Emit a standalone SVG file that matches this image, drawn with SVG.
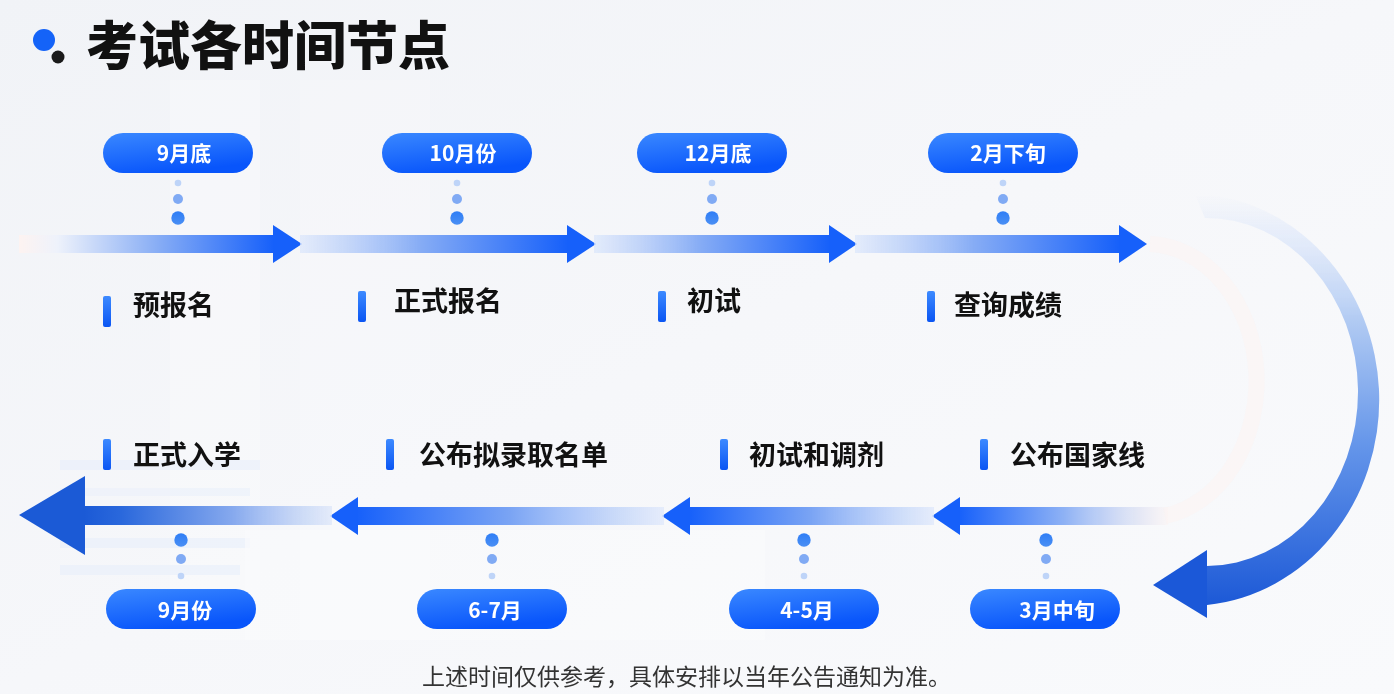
<svg xmlns="http://www.w3.org/2000/svg" width="1394" height="694" viewBox="0 0 1394 694">
<defs>
<linearGradient id="bg" x1="0" y1="0" x2="1" y2="1">
<stop offset="0" stop-color="#f1f3f7"/>
<stop offset="0.5" stop-color="#f6f7fa"/>
<stop offset="1" stop-color="#f9fafc"/>
</linearGradient>
<linearGradient id="pill" x1="0" y1="0" x2="0.4" y2="1">
<stop offset="0" stop-color="#3a88ff"/>
<stop offset="1" stop-color="#0855fb"/>
</linearGradient>
<linearGradient id="bar" x1="0" y1="0" x2="0" y2="1">
<stop offset="0" stop-color="#3d8aff"/>
<stop offset="1" stop-color="#0a55f3"/>
</linearGradient>
<linearGradient id="dotg" x1="0" y1="0" x2="0" y2="1">
<stop offset="0" stop-color="#2f7ef6"/>
<stop offset="1" stop-color="#4a8ff4"/>
</linearGradient>
<linearGradient id="rshaft" x1="0" y1="0" x2="1" y2="0">
<stop offset="0" stop-color="#dbe6fb" stop-opacity="0.7"/>
<stop offset="0.45" stop-color="#86acf5"/>
<stop offset="1" stop-color="#1660fa"/>
</linearGradient>
<linearGradient id="rshaft1" x1="0" y1="0" x2="1" y2="0">
<stop offset="0" stop-color="#fdf3f1"/>
<stop offset="0.15" stop-color="#eef2fb"/>
<stop offset="0.55" stop-color="#86acf5"/>
<stop offset="1" stop-color="#1660fa"/>
</linearGradient>
<linearGradient id="lshaft" x1="0" y1="0" x2="1" y2="0">
<stop offset="0" stop-color="#1660fa"/>
<stop offset="0.5" stop-color="#7aa4f4"/>
<stop offset="1" stop-color="#dde7fb" stop-opacity="0.7"/>
</linearGradient>
<linearGradient id="lshaft4" x1="0" y1="0" x2="1" y2="0">
<stop offset="0" stop-color="#1660fa"/>
<stop offset="0.5" stop-color="#8db1f5"/>
<stop offset="1" stop-color="#fbf3f2" stop-opacity="0.6"/>
</linearGradient>
<linearGradient id="lshaft1" x1="0" y1="0" x2="1" y2="0">
<stop offset="0" stop-color="#1b5ad6"/>
<stop offset="0.15" stop-color="#2a68dc"/>
<stop offset="0.6" stop-color="#86a9ee"/>
<stop offset="1" stop-color="#dbe5f9" stop-opacity="0.7"/>
</linearGradient>
<linearGradient id="curve" x1="0" y1="195" x2="0" y2="610" gradientUnits="userSpaceOnUse">
<stop offset="0" stop-color="#e4ecfb" stop-opacity="0"/>
<stop offset="0.08" stop-color="#dfe8fa" stop-opacity="0.6"/>
<stop offset="0.3" stop-color="#b2cbf3"/>
<stop offset="0.6" stop-color="#6596ea"/>
<stop offset="1" stop-color="#1a57d6"/>
</linearGradient>
</defs>
<style>
.pill{fill:url(#pill)}
.ptxt{font-family:"Noto Sans CJK SC","Noto Sans",sans-serif;font-weight:700;font-size:21px;fill:#ffffff;text-anchor:middle}
.lbl{font-family:"Noto Sans CJK SC","Noto Sans",sans-serif;font-weight:700;font-size:27px;fill:#111111}
.bar{fill:url(#bar)}
.d1{fill:#bed4f8}
.d2{fill:#80aaf4}
.d3{fill:url(#dotg)}
.head{fill:#1660fa}
</style>
<rect x="0" y="0" width="1394" height="694" fill="url(#bg)"/>
<g id="background-deco" opacity="0.5">
<rect x="170" y="80" width="90" height="560" fill="#ffffff" opacity="0.5"/>
<rect x="300" y="80" width="130" height="560" fill="#ffffff" opacity="0.35"/>
<rect x="60" y="460" width="200" height="10" fill="#dbe8fb" opacity="0.6"/>
<rect x="60" y="488" width="190" height="8" fill="#e0ebfb" opacity="0.6"/>
<rect x="60" y="538" width="190" height="10" fill="#dbe8fb" opacity="0.6"/>
<rect x="60" y="565" width="180" height="10" fill="#dbe8fb" opacity="0.6"/>
<rect x="245" y="530" width="520" height="110" fill="#ffffff" opacity="0.6"/>
</g>

<g id="title">
<circle cx="44" cy="40" r="11" fill="#1463f8"/>
<circle cx="58" cy="57" r="6.5" fill="#1a1a1a"/>
<text x="86" y="65" font-family="'Noto Sans CJK SC','Noto Sans',sans-serif" font-weight="900" font-size="52" fill="#111111">考试各时间节点</text>
</g>

<g id="connectors">
<rect x="19" y="235" width="255" height="18" fill="url(#rshaft1)"/>
<polygon class="head" points="273,225 302,244 273,263"/>
<rect x="300" y="235" width="268" height="18" fill="url(#rshaft)"/>
<polygon class="head" points="567,225 596,244 567,263"/>
<rect x="594" y="235" width="236" height="18" fill="url(#rshaft)"/>
<polygon class="head" points="829,225 857,244 829,263"/>
<rect x="855" y="235" width="265" height="18" fill="url(#rshaft)"/>
<polygon class="head" points="1119,225 1147,244 1119,263"/>
<path d="M 1150 244 A 110 137 0 0 1 1165 516" fill="none" stroke="#fdf3f1" stroke-width="16" opacity="0.5"/>
<path d="M 1207 605 A 190 206 0 0 0 1195 194 L 1205 218 A 152 174 0 0 1 1207 566 Z" fill="url(#curve)"/>
<polygon points="1207,550 1153,585 1207,618" fill="#1b58d8"/>
<rect x="958" y="507" width="210" height="18" fill="url(#lshaft4)"/>
<polygon class="head" points="960,497 932,516 960,535"/>
<rect x="688" y="507" width="246" height="18" fill="url(#lshaft)"/>
<polygon class="head" points="690,497 662,516 690,535"/>
<rect x="356" y="507" width="308" height="18" fill="url(#lshaft)"/>
<polygon class="head" points="358,497 330,516 358,535"/>
<rect x="84" y="506" width="248" height="19" fill="url(#lshaft1)"/>
<polygon points="85,476 19,515 85,555" fill="#1b5ad6"/>
</g>

<g id="node-yubaoming">
<rect class="pill" x="103" y="133" width="150" height="40" rx="20"/>
<text class="ptxt" x="184" y="161">9月底</text>
<circle class="d1" cx="178" cy="183" r="3.3"/>
<circle class="d2" cx="178" cy="199" r="5"/>
<circle class="d3" cx="178" cy="218" r="6.7"/>
<rect class="bar" x="103" y="296" width="8" height="31" rx="2"/>
<text class="lbl" x="133" y="315">预报名</text>
</g>

<g id="node-zhengshibaoming">
<rect class="pill" x="382" y="133" width="150" height="40" rx="20"/>
<text class="ptxt" x="463" y="161">10月份</text>
<circle class="d1" cx="457" cy="183" r="3.3"/>
<circle class="d2" cx="457" cy="199" r="5"/>
<circle class="d3" cx="457" cy="218" r="6.7"/>
<rect class="bar" x="358" y="291" width="8" height="31" rx="2"/>
<text class="lbl" x="394" y="311">正式报名</text>
</g>

<g id="node-chushi">
<rect class="pill" x="637" y="133" width="150" height="40" rx="20"/>
<text class="ptxt" x="718" y="161">12月底</text>
<circle class="d1" cx="712" cy="183" r="3.3"/>
<circle class="d2" cx="712" cy="199" r="5"/>
<circle class="d3" cx="712" cy="218" r="6.7"/>
<rect class="bar" x="658" y="291" width="8" height="31" rx="2"/>
<text class="lbl" x="687" y="311">初试</text>
</g>

<g id="node-chaxunchengji">
<rect class="pill" x="928" y="133" width="150" height="40" rx="20"/>
<text class="ptxt" x="1008" y="161">2月下旬</text>
<circle class="d1" cx="1003" cy="183" r="3.3"/>
<circle class="d2" cx="1003" cy="199" r="5"/>
<circle class="d3" cx="1003" cy="218" r="6.7"/>
<rect class="bar" x="927" y="291" width="8" height="31" rx="2"/>
<text class="lbl" x="954" y="315">查询成绩</text>
</g>

<g id="node-gongbuguojiaxian">
<rect class="bar" x="980" y="439" width="8" height="31" rx="2"/>
<text class="lbl" x="1010" y="465">公布国家线</text>
<circle class="d3" cx="1046" cy="540" r="6.7"/>
<circle class="d2" cx="1046" cy="559" r="5"/>
<circle class="d1" cx="1046" cy="576" r="3.3"/>
<rect class="pill" x="970" y="589" width="150" height="40" rx="20"/>
<text class="ptxt" x="1057" y="618">3月中旬</text>
</g>

<g id="node-chushihetiaoji">
<rect class="bar" x="720" y="439" width="8" height="31" rx="2"/>
<text class="lbl" x="749" y="465">初试和调剂</text>
<circle class="d3" cx="804" cy="540" r="6.7"/>
<circle class="d2" cx="804" cy="559" r="5"/>
<circle class="d1" cx="804" cy="576" r="3.3"/>
<rect class="pill" x="729" y="589" width="150" height="40" rx="20"/>
<text class="ptxt" x="807" y="618">4-5月</text>
</g>

<g id="node-nilulu">
<rect class="bar" x="386" y="439" width="8" height="31" rx="2"/>
<text class="lbl" x="419" y="465">公布拟录取名单</text>
<circle class="d3" cx="492" cy="540" r="6.7"/>
<circle class="d2" cx="492" cy="559" r="5"/>
<circle class="d1" cx="492" cy="576" r="3.3"/>
<rect class="pill" x="417" y="589" width="150" height="40" rx="20"/>
<text class="ptxt" x="495" y="618">6-7月</text>
</g>

<g id="node-zhengshiruxue">
<rect class="bar" x="103" y="439" width="8" height="31" rx="2"/>
<text class="lbl" x="133" y="465">正式入学</text>
<circle class="d3" cx="181" cy="540" r="6.7"/>
<circle class="d2" cx="181" cy="559" r="5"/>
<circle class="d1" cx="181" cy="576" r="3.3"/>
<rect class="pill" x="106" y="589" width="150" height="40" rx="20"/>
<text class="ptxt" x="185" y="618">9月份</text>
</g>

<g id="footnote">
<text x="422" y="685" font-family="'Noto Sans CJK SC','Noto Sans',sans-serif" font-size="23" fill="#333333">上述时间仅供参考，具体安排以当年公告通知为准。</text>
</g>
</svg>
